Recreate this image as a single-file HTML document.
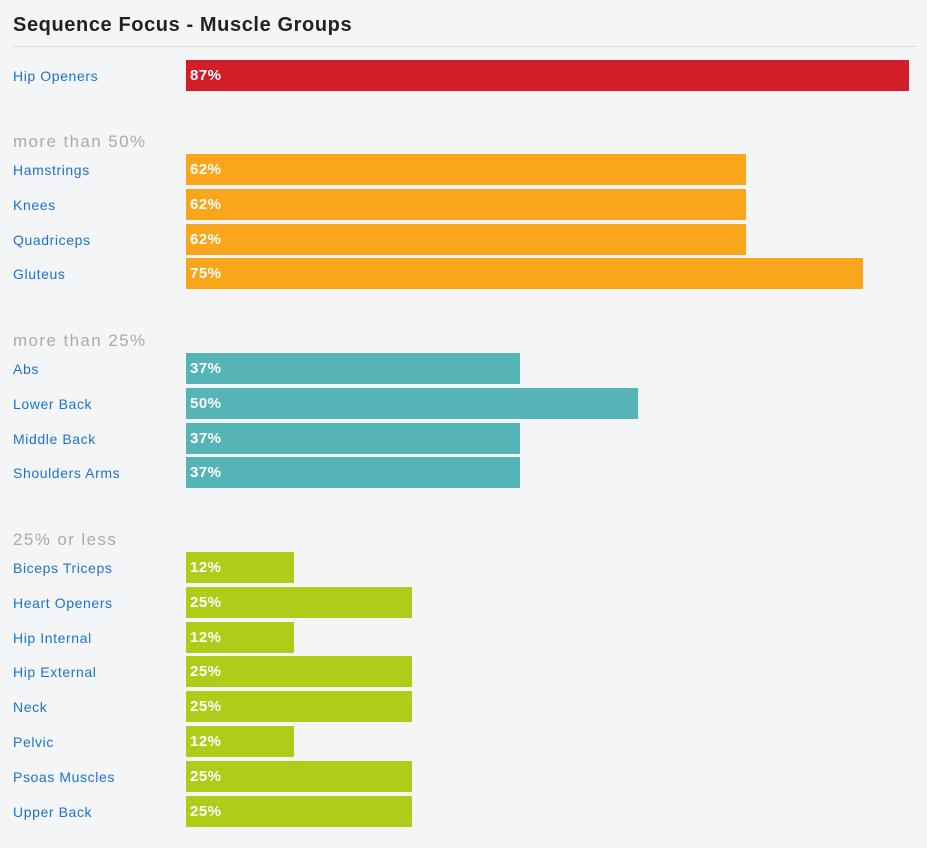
<!DOCTYPE html>
<html><head><meta charset="utf-8">
<style>
body{margin:0;width:927px;height:848px;background:#f4f5f7;font-family:"Liberation Sans",sans-serif;position:relative;overflow:hidden}
.t{position:absolute;left:13px;top:14px;font-size:20px;font-weight:bold;color:#222;letter-spacing:0.6px}
.rule{position:absolute;left:13px;top:46px;width:904px;height:1px;background:#d8d9db}
.lbl{position:absolute;left:13px;font-size:14px;color:#1a73d0;letter-spacing:0.6px;line-height:16px}
.hdr{position:absolute;left:13px;font-size:17px;color:#aaa;letter-spacing:1.4px;line-height:20px}
.bar{position:absolute;left:186px;height:31px}
.val{position:absolute;left:4px;top:7px;font-size:15px;font-weight:bold;color:#fff;letter-spacing:0.5px;line-height:18px}
</style></head><body>
<div class="t">Sequence Focus - Muscle Groups</div>
<div class="rule"></div>
<div id="chart"></div>
<script>
const groupHeaders = [null, "more than 50%", "more than 25%", "25% or less"];
const groupColors = ["#d31e2a", "#f9a61c", "#55b5b6", "#afcd18"];
const groupLabels = [
  ["Hip Openers"],
  ["Hamstrings","Knees","Quadriceps","Gluteus"],
  ["Abs","Lower Back","Middle Back","Shoulders Arms"],
  ["Biceps Triceps","Heart Openers","Hip Internal","Hip External","Neck","Pelvic","Psoas Muscles","Upper Back"]
];
const groupValues = [
  [87],
  [62,62,62,75],
  [37,50,37,37],
  [12,25,12,25,25,12,25,25]
];
const chart = document.getElementById('chart');
const pxPerPct = 9.03, maxW = 723, pitch = 34.8;
const groupTops = [60, 154, 353, 552];
function x(v){ return Math.min(maxW, v*pxPerPct); }
groupLabels.forEach((labels, g) => {
  const top = groupTops[g];
  if (groupHeaders[g]) {
    const h = document.createElement('div');
    h.className = 'hdr';
    h.style.top = (top - 22) + 'px';
    h.textContent = groupHeaders[g];
    
    
    chart.appendChild(h);
  }
  labels.forEach((name, i) => {
    const y = top + i*pitch;
    const l = document.createElement('div');
    l.className = 'lbl';
    l.style.top = (y + 8) + 'px';
    l.textContent = name;
    
    
    chart.appendChild(l);
    const b = document.createElement('div');
    b.className = 'bar';
    b.style.top = y + 'px';
    b.style.width = x(groupValues[g][i]) + 'px';
    b.style.background = groupColors[g];
    
    
    const v = document.createElement('div');
    v.className = 'val';
    v.textContent = groupValues[g][i] + '%';
    
    
    b.appendChild(v);
    chart.appendChild(b);
  });
});
</script>
</body></html>
